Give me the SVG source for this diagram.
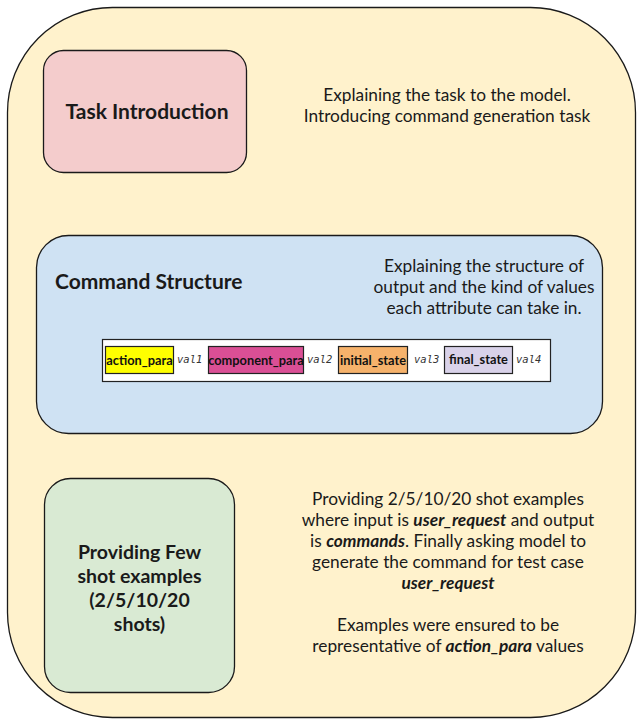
<svg xmlns="http://www.w3.org/2000/svg" width="637" height="719" viewBox="0 0 637 719">
<style>
.box{stroke:#1a1a1a;stroke-width:1.3}
.t{font-family:Lato,"Noto Sans","Liberation Sans",sans-serif;fill:#1a1a1a}
.title{font-size:21px;font-weight:bold}
.title2{font-size:19.5px;font-weight:bold}
.desc{font-size:17.3px;text-anchor:middle}
.chip{stroke:#222;stroke-width:1.2}
.ct{font-family:Lato,"Noto Sans","Liberation Sans",sans-serif;font-size:12.8px;font-weight:bold;fill:#111}
.v{font-family:"DejaVu Sans Mono","Liberation Mono",monospace;font-style:italic;font-size:10.5px;fill:#333}
</style>
<rect width="637" height="719" fill="#ffffff"/>
<g id="container">
<rect class="box" x="7.5" y="7.5" width="628" height="710" rx="105" ry="105" fill="#fff2cc"/>
</g>
<g id="task-introduction">
<rect class="box" x="43.5" y="50.5" width="203" height="122" rx="20" fill="#f4cccc"/>
<text class="t title" x="147" y="119" text-anchor="middle">Task Introduction</text>
</g>
<g id="task-introduction-note">
<text class="t desc" x="447" y="101">Explaining the task to the model.</text>
<text class="t desc" x="447" y="122">Introducing command generation task</text>
</g>
<g id="command-structure">
<rect class="box" x="36.5" y="235.5" width="566" height="198" rx="32" fill="#cfe2f3"/>
<text class="t title" x="55" y="289">Command Structure</text>
<text class="t desc" x="484" y="272">Explaining the structure of</text>
<text class="t desc" x="484" y="293">output and the kind of values</text>
<text class="t desc" x="484" y="314">each attribute can take in.</text>
</g>
<g id="command-format">
<rect x="102.5" y="339.5" width="448" height="42" fill="#ffffff" stroke="#222" stroke-width="1.2"/>
<rect class="chip" x="105.5" y="346.5" width="68" height="27" fill="#ffff00"/>
<text class="ct" x="139.5" y="364.5" text-anchor="middle">action_para</text>
<text class="v" x="177" y="363">val1</text>
<rect class="chip" x="208.5" y="346.5" width="95" height="27" fill="#da4f95"/>
<text class="ct" x="256" y="364.5" text-anchor="middle">component_para</text>
<text class="v" x="307" y="363">val2</text>
<rect class="chip" x="338.5" y="346.5" width="69" height="27" fill="#f6b26b"/>
<text class="ct" x="373" y="365" text-anchor="middle">initial_state</text>
<text class="v" x="414" y="363">val3</text>
<rect class="chip" x="444.5" y="346.5" width="68" height="27" fill="#d9d2e9"/>
<text class="ct" x="478.5" y="363.5" text-anchor="middle">final_state</text>
<text class="v" x="516" y="363">val4</text>
</g>
<g id="few-shot">
<rect class="box" x="44.5" y="478.5" width="190" height="214" rx="26" fill="#d9ead3"/>
<text class="t title2" x="139.5" y="559" text-anchor="middle">Providing Few</text>
<text class="t title2" x="139.5" y="583" text-anchor="middle">shot examples</text>
<text class="t title2" x="139.5" y="607" text-anchor="middle">(2/5/10/20</text>
<text class="t title2" x="139.5" y="631" text-anchor="middle">shots)</text>
</g>
<g id="few-shot-note">
<text class="t desc" x="448" y="505">Providing 2/5/10/20 shot examples</text>
<text class="t desc" x="448" y="526">where input is <tspan font-weight="bold" font-style="italic">user_request</tspan> and output</text>
<text class="t desc" x="448" y="547">is <tspan font-weight="bold" font-style="italic">commands</tspan>. Finally asking model to</text>
<text class="t desc" x="448" y="568">generate the command for test case</text>
<text class="t desc" x="448" y="589" font-weight="bold" font-style="italic">user_request</text>
<text class="t desc" x="448" y="631">Examples were ensured to be</text>
<text class="t desc" x="448" y="652">representative of <tspan font-weight="bold" font-style="italic">action_para</tspan> values</text>
</g>
<g id="connectors"></g>
</svg>
